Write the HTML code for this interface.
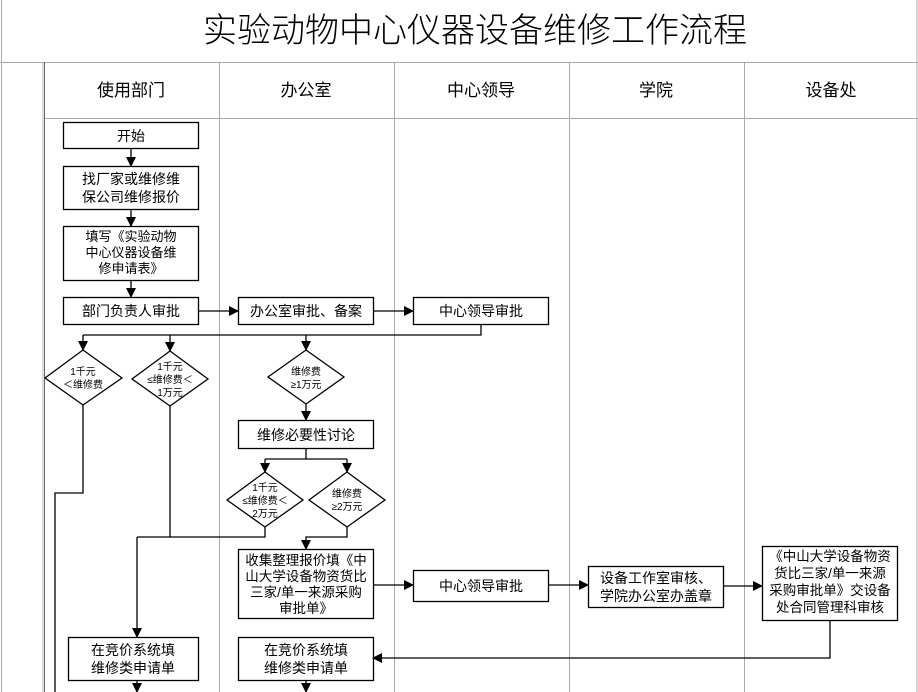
<!DOCTYPE html>
<html><head><meta charset="utf-8"><style>
html,body{margin:0;padding:0;background:#fff;}
svg{display:block;font-family:"Liberation Sans","Noto Sans CJK SC",sans-serif;}
</style></head><body>
<svg width="918" height="692" viewBox="0 0 918 692" xmlns="http://www.w3.org/2000/svg">
<defs><marker id="a" markerWidth="10" markerHeight="10" refX="9" refY="5" orient="auto" markerUnits="userSpaceOnUse"><path d="M0,0 L10,5 L0,10 z" fill="#000"/></marker></defs>
<g stroke="#aaa" stroke-width="1" fill="none">
<line x1="1.5" y1="0" x2="1.5" y2="692"/>
<line x1="917" y1="0" x2="917" y2="692"/>
<line x1="0" y1="62.5" x2="918" y2="62.5"/>
<line x1="44" y1="118.5" x2="918" y2="118.5"/>
<line x1="219.5" y1="62" x2="219.5" y2="692"/>
<line x1="394.5" y1="62" x2="394.5" y2="692"/>
<line x1="569.5" y1="62" x2="569.5" y2="692"/>
<line x1="744.5" y1="62" x2="744.5" y2="692"/>
</g>
<line x1="43" y1="62" x2="43" y2="692" stroke="#bbb" stroke-width="1"/>
<line x1="44.5" y1="62" x2="44.5" y2="692" stroke="#666" stroke-width="1"/>
<text x="475" y="42" font-size="34" font-weight="300" text-anchor="middle" fill="#000">实验动物中心仪器设备维修工作流程</text>
<g font-size="17" text-anchor="middle" fill="#000">
<text x="131" y="96">使用部门</text><text x="306" y="96">办公室</text><text x="481" y="96">中心领导</text><text x="656" y="96">学院</text><text x="831" y="96">设备处</text>
</g>
<g stroke="#000" stroke-width="1.3" fill="#fff">
<rect x="63.5" y="122.5" width="135" height="26"/>
<rect x="63.5" y="166.5" width="135" height="43"/>
<rect x="63.5" y="226.5" width="135" height="54"/>
<rect x="63.5" y="297.5" width="135" height="27"/>
<rect x="238.5" y="297.5" width="135" height="27"/>
<rect x="413.5" y="297.5" width="135" height="27"/>
<polygon points="83,350 122,378 83,405 45,378"/>
<polygon points="170,351 208,379 170,406 132,379"/>
<polygon points="306,350 344,377 306,404 268,377"/>
<rect x="238.5" y="420.5" width="135" height="28"/>
<polygon points="265,472 303,500 265,527 227,500"/>
<polygon points="347,472 385,500 347,527 309,500"/>
<rect x="238.5" y="549.5" width="135" height="69"/>
<rect x="413.5" y="570.5" width="135" height="31"/>
<rect x="588.5" y="566.5" width="135" height="41"/>
<rect x="762.5" y="546.5" width="135" height="74"/>
<rect x="68.5" y="637.5" width="130" height="43"/>
<rect x="238.5" y="637.5" width="135" height="43"/>
</g>
<g stroke="#000" stroke-width="1.3" fill="none" marker-end="url(#a)">
<line x1="131" y1="148" x2="131" y2="166"/>
<line x1="131" y1="209" x2="131" y2="226"/>
<line x1="131" y1="280" x2="131" y2="297"/>
<line x1="198" y1="311" x2="238" y2="311"/>
<line x1="373" y1="311" x2="413" y2="311"/>
<line x1="83" y1="335" x2="83" y2="350"/>
<line x1="170" y1="335" x2="170" y2="351"/>
<line x1="306" y1="335" x2="306" y2="350"/>
<line x1="306" y1="404" x2="306" y2="420"/>
<line x1="265" y1="459" x2="265" y2="472"/>
<line x1="347" y1="459" x2="347" y2="472"/>
<polyline points="347,527 347,537 306,537 306,549"/>
<polyline points="137,537 137,637"/>
<line x1="373" y1="585" x2="413" y2="585"/>
<line x1="548" y1="585" x2="588" y2="585"/>
<line x1="723" y1="586" x2="762" y2="586"/>
<polyline points="830,620 830,658 373,658"/>
<line x1="137" y1="680" x2="137" y2="692"/>
<line x1="306" y1="680" x2="306" y2="692"/>
</g>
<g stroke="#000" stroke-width="1.3" fill="none">
<polyline points="481,324 481,335 83,335"/>
<polyline points="306,448 306,459"/><line x1="265" y1="459" x2="347" y2="459"/>
<polyline points="83,405 83,493 55,493 55,692"/>
<polyline points="170,406 170,537 137,537"/>
<polyline points="265,527 265,537 170,537"/>
</g>
<g font-size="14" text-anchor="middle" fill="#000">
<text x="131" y="141">开始</text>
<text x="131" y="184">找厂家或维修维</text><text x="131" y="202">保公司维修报价</text>
<text x="131" y="241" font-size="13">填写《实验动物</text><text x="131" y="257" font-size="13">中心仪器设备维</text><text x="131" y="273" font-size="13">修申请表》</text>
<text x="131" y="316">部门负责人审批</text>
<text x="306" y="316">办公室审批、备案</text>
<text x="481" y="316">中心领导审批</text>
<text x="306" y="440">维修必要性讨论</text>
<text x="481" y="591">中心领导审批</text>
<text x="656" y="583">设备工作室审核、</text><text x="656" y="601">学院办公室办盖章</text>
<text x="306" y="565" font-size="13.5">收集整理报价填《中</text><text x="306" y="581" font-size="13.5">山大学设备物资货比</text><text x="306" y="597" font-size="13.5">三家/单一来源采购</text><text x="306" y="613" font-size="13.5">审批单》</text>
<text x="830" y="561" font-size="13.5">《中山大学设备物资</text><text x="830" y="578" font-size="13.5">货比三家/单一来源</text><text x="830" y="595" font-size="13.5">采购审批单》交设备</text><text x="830" y="612" font-size="13.5">处合同管理科审核</text>
<text x="133" y="655">在竞价系统填</text><text x="133" y="673">维修类申请单</text>
<text x="306" y="655">在竞价系统填</text><text x="306" y="673">维修类申请单</text>
</g>
<g font-size="10" text-anchor="middle" fill="#000">
<text x="83" y="375">1千元</text><text x="83" y="388">＜维修费</text>
<text x="170" y="370">1千元</text><text x="170" y="383">≤维修费＜</text><text x="170" y="396">1万元</text>
<text x="306" y="375">维修费</text><text x="306" y="388">≥1万元</text>
<text x="265" y="491">1千元</text><text x="265" y="504">≤维修费＜</text><text x="265" y="517">2万元</text>
<text x="347" y="497">维修费</text><text x="347" y="510">≥2万元</text>
</g>
</svg>
</body></html>
